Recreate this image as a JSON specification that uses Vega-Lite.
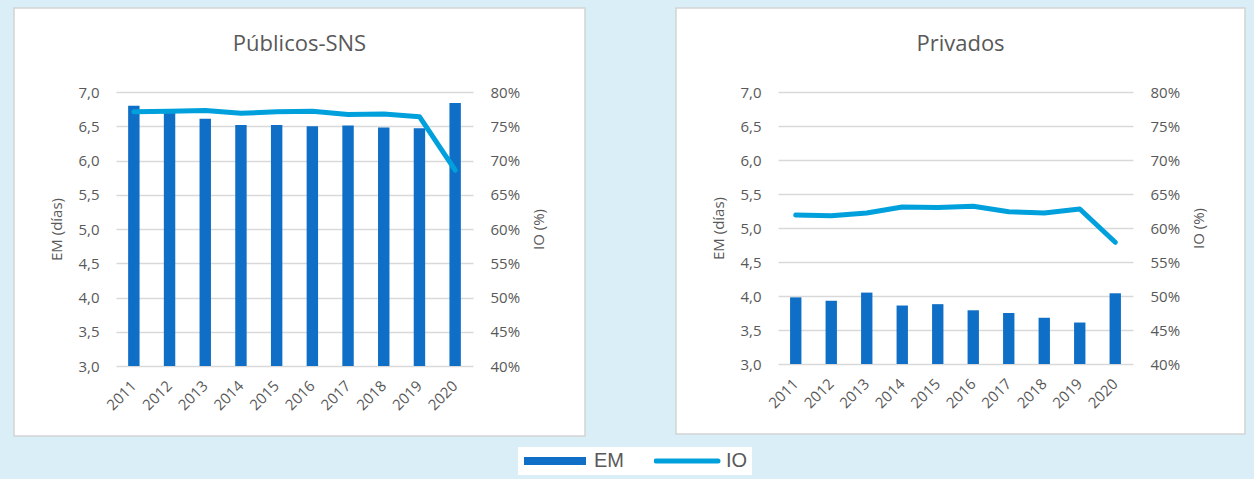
{
  "$schema": "https://vega.github.io/schema/vega-lite/v6.json",
  "background": "#DAEEF7",
  "padding": {"left": 13, "top": 7, "right": 12, "bottom": 6},
  "data": {
    "values": [
      {"panel": "Públicos-SNS", "year": "2011", "EM": 6.80, "IO": 0.771},
      {"panel": "Públicos-SNS", "year": "2012", "EM": 6.72, "IO": 0.772},
      {"panel": "Públicos-SNS", "year": "2013", "EM": 6.61, "IO": 0.773},
      {"panel": "Públicos-SNS", "year": "2014", "EM": 6.52, "IO": 0.769},
      {"panel": "Públicos-SNS", "year": "2015", "EM": 6.52, "IO": 0.771},
      {"panel": "Públicos-SNS", "year": "2016", "EM": 6.50, "IO": 0.772},
      {"panel": "Públicos-SNS", "year": "2017", "EM": 6.51, "IO": 0.767},
      {"panel": "Públicos-SNS", "year": "2018", "EM": 6.48, "IO": 0.768},
      {"panel": "Públicos-SNS", "year": "2019", "EM": 6.47, "IO": 0.764},
      {"panel": "Públicos-SNS", "year": "2020", "EM": 6.84, "IO": 0.686},
      {"panel": "Privados", "year": "2011", "EM": 3.98, "IO": 0.619},
      {"panel": "Privados", "year": "2012", "EM": 3.93, "IO": 0.618},
      {"panel": "Privados", "year": "2013", "EM": 4.05, "IO": 0.622},
      {"panel": "Privados", "year": "2014", "EM": 3.86, "IO": 0.631},
      {"panel": "Privados", "year": "2015", "EM": 3.88, "IO": 0.630},
      {"panel": "Privados", "year": "2016", "EM": 3.79, "IO": 0.632},
      {"panel": "Privados", "year": "2017", "EM": 3.75, "IO": 0.624},
      {"panel": "Privados", "year": "2018", "EM": 3.68, "IO": 0.622},
      {"panel": "Privados", "year": "2019", "EM": 3.61, "IO": 0.628},
      {"panel": "Privados", "year": "2020", "EM": 4.04, "IO": 0.579}
    ]
  },
  "config": {
    "view": {"fill": "white", "stroke": "#D4D4D4", "strokeWidth": 1.5},
    "axis": {
      "labelFont": "Open Sans", "labelFontSize": 15, "labelColor": "#595959",
      "titleFont": "Open Sans", "titleFontSize": 15, "titleColor": "#595959", "titleFontWeight": "normal",
      "ticks": false, "tickSize": 0, "domain": false,
      "gridColor": "#D9D9D9", "gridWidth": 1.5
    },
    "title": {"font": "Open Sans", "fontSize": 22, "color": "#595959", "fontWeight": "normal", "anchor": "middle"},
    "concat": {"spacing": 89}
  },
  "resolve": {"scale": {"color": "shared"}, "legend": {"color": "shared"}},
  "hconcat": [
    {
      "title": {"text": "Públicos-SNS", "offset": -65, "baseline": "alphabetic"},
      "width": 571,
      "height": 428,
      "transform": [{"filter": "datum.panel === 'Públicos-SNS'"}],
      "encoding": {
        "x": {
          "field": "year", "type": "ordinal",
          "scale": {"range": [102, 459], "paddingInner": 0.68, "paddingOuter": 0.34},
          "axis": {"title": null, "orient": "bottom", "offset": -70, "labelAngle": -45, "labelAlign": "right", "labelBaseline": "middle", "labelPadding": 17}
        }
      },
      "layer": [
        {
          "mark": {"type": "bar"},
          "encoding": {
            "y": {
              "field": "EM", "type": "quantitative",
              "scale": {"domain": [3, 7], "range": [358, 84], "nice": false, "zero": false},
              "axis": {"title": "EM (días)", "orient": "left", "offset": -102, "grid": true,
                "values": [3, 3.5, 4, 4.5, 5, 5.5, 6, 6.5, 7],
                "labelExpr": "replace(format(datum.value, '.1f'), '.', ',')",
                "labelPadding": 17, "titlePadding": 13}
            },
            "y2": {"datum": 3},
            "color": {
              "datum": "EM",
              "scale": {"domain": ["EM", "IO"], "range": ["#0F6FC6", "#00A0DC"]},
              "legend": {
                "orient": "none", "legendX": 504, "legendY": 439, "direction": "horizontal", "title": null,
                "fillColor": "white", "padding": 4, "clipHeight": 20,
                "symbolType": "stroke", "symbolSize": 3844, "symbolOffset": 23,
                "labelFont": "Liberation Sans", "labelFontSize": 20, "labelColor": "#595959",
                "labelOffset": 29, "columnPadding": 30,
                "encode": {
                  "symbols": {
                    "update": {
                      "stroke": {"signal": "datum.value === 'EM' ? '#0F6FC6' : '#00A0DC'"},
                      "fill": {"value": "transparent"},
                      "strokeWidth": {"signal": "datum.value === 'EM' ? 8 : 5"},
                      "strokeCap": {"signal": "datum.value === 'EM' ? 'butt' : 'round'"},
                      "opacity": {"value": 1}
                    }
                  }
                }
              }
            }
          }
        },
        {
          "mark": {"type": "line", "strokeWidth": 5, "strokeCap": "round", "strokeJoin": "round"},
          "encoding": {
            "y": {
              "field": "IO", "type": "quantitative",
              "scale": {"domain": [0.4, 0.8], "range": [358, 84], "nice": false, "zero": false},
              "axis": {"title": "IO (%)", "orient": "right", "offset": -112, "grid": false,
                "values": [0.4, 0.45, 0.5, 0.55, 0.6, 0.65, 0.7, 0.75, 0.8],
                "format": ".0%", "labelPadding": 17, "titlePadding": 12,
                "titleAngle": 270, "titleBaseline": "top"}
            },
            "color": {"datum": "IO"}
          }
        }
      ],
      "resolve": {"scale": {"y": "independent"}}
    },
    {
      "title": {"text": "Privados", "offset": -65, "baseline": "alphabetic"},
      "width": 569,
      "height": 426,
      "transform": [{"filter": "datum.panel === 'Privados'"}],
      "encoding": {
        "x": {
          "field": "year", "type": "ordinal",
          "scale": {"range": [102, 457], "paddingInner": 0.68, "paddingOuter": 0.34},
          "axis": {"title": null, "orient": "bottom", "offset": -70, "labelAngle": -45, "labelAlign": "right", "labelBaseline": "middle", "labelPadding": 17}
        }
      },
      "layer": [
        {
          "mark": {"type": "bar"},
          "encoding": {
            "y": {
              "field": "EM", "type": "quantitative",
              "scale": {"domain": [3, 7], "range": [356, 84], "nice": false, "zero": false},
              "axis": {"title": "EM (días)", "orient": "left", "offset": -102, "grid": true,
                "values": [3, 3.5, 4, 4.5, 5, 5.5, 6, 6.5, 7],
                "labelExpr": "replace(format(datum.value, '.1f'), '.', ',')",
                "labelPadding": 17, "titlePadding": 13}
            },
            "y2": {"datum": 3},
            "color": {
              "datum": "EM",
              "scale": {"domain": ["EM", "IO"], "range": ["#0F6FC6", "#00A0DC"]},
              "legend": {
                "orient": "none", "legendX": 504, "legendY": 439, "direction": "horizontal", "title": null,
                "fillColor": "white", "padding": 4, "clipHeight": 20,
                "symbolType": "stroke", "symbolSize": 3844, "symbolOffset": 23,
                "labelFont": "Liberation Sans", "labelFontSize": 20, "labelColor": "#595959",
                "labelOffset": 29, "columnPadding": 30,
                "encode": {
                  "symbols": {
                    "update": {
                      "stroke": {"signal": "datum.value === 'EM' ? '#0F6FC6' : '#00A0DC'"},
                      "fill": {"value": "transparent"},
                      "strokeWidth": {"signal": "datum.value === 'EM' ? 8 : 5"},
                      "strokeCap": {"signal": "datum.value === 'EM' ? 'butt' : 'round'"},
                      "opacity": {"value": 1}
                    }
                  }
                }
              }
            }
          }
        },
        {
          "mark": {"type": "line", "strokeWidth": 5, "strokeCap": "round", "strokeJoin": "round"},
          "encoding": {
            "y": {
              "field": "IO", "type": "quantitative",
              "scale": {"domain": [0.4, 0.8], "range": [356, 84], "nice": false, "zero": false},
              "axis": {"title": "IO (%)", "orient": "right", "offset": -112, "grid": false,
                "values": [0.4, 0.45, 0.5, 0.55, 0.6, 0.65, 0.7, 0.75, 0.8],
                "format": ".0%", "labelPadding": 17, "titlePadding": 12,
                "titleAngle": 270, "titleBaseline": "top"}
            },
            "color": {"datum": "IO"}
          }
        }
      ],
      "resolve": {"scale": {"y": "independent"}}
    }
  ]
}
